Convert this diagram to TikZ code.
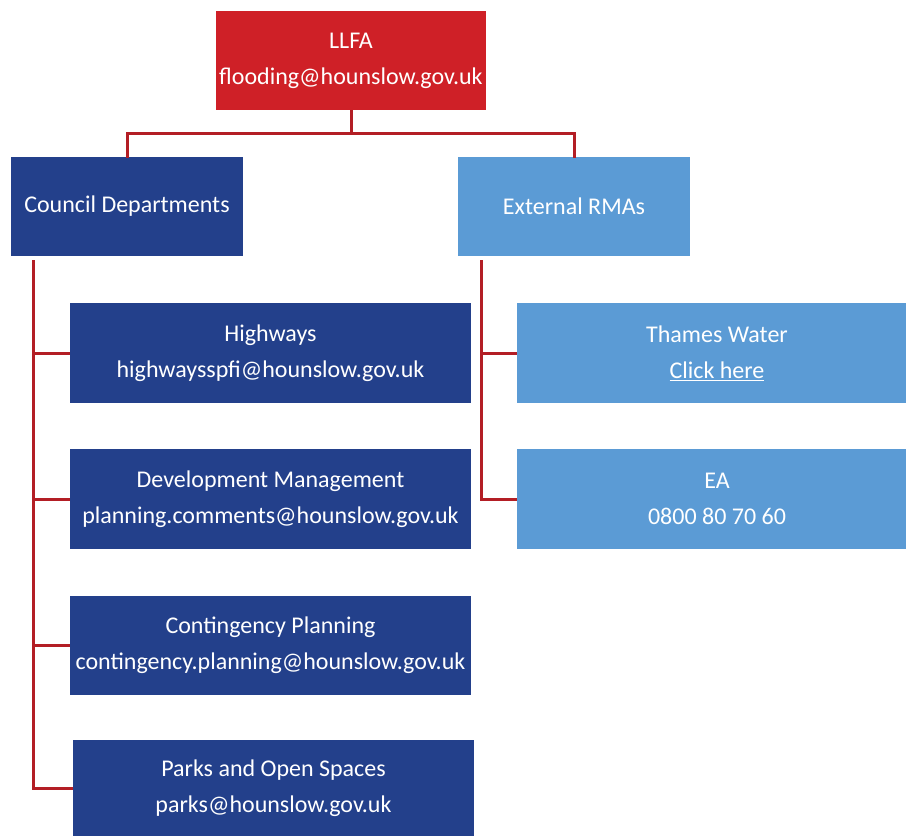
\documentclass[tikz,border=0pt]{standalone}
\usepackage{fontspec}
\setmainfont{Carlito}
\definecolor{llfared}{HTML}{CF2027}
\definecolor{darkblue}{HTML}{23408B}
\definecolor{lightblue}{HTML}{5B9BD5}
\definecolor{linered}{HTML}{B31E25}
\begin{document}
\begin{tikzpicture}[x=1pt,y=-1pt,
  box/.style={draw=none,inner sep=0pt,text=white,align=center,
    font=\fontsize{24}{36}\selectfont},
  conn/.style={draw=linered,line width=3pt},
]
\useasboundingbox (0,0) rectangle (906,836);
\clip (0,0) rectangle (906,836);
% boxes
\node[box,fill=llfared,minimum width=270pt,minimum height=99pt] (llfa) at (351,60.5) {LLFA\\flooding@hounslow.gov.uk};
\node[box,fill=darkblue,minimum width=232pt,minimum height=99pt] (cd) at (127,206.5) {Council Departments};
\node[box,fill=lightblue,minimum width=232pt,minimum height=99pt] (ext) at (574,206.5) {External RMAs};
\node[box,fill=darkblue,minimum width=401pt,minimum height=100pt] (hw) at (270.5,353) {Highways\\highwaysspfi@hounslow.gov.uk};
\node[box,fill=darkblue,minimum width=401pt,minimum height=100pt] (dm) at (270.5,499) {Development Management\\planning.comments@hounslow.gov.uk};
\node[box,fill=darkblue,minimum width=401pt,minimum height=99pt] (cp) at (270.5,645.5) {Contingency Planning\\contingency.planning@hounslow.gov.uk};
\node[box,fill=darkblue,minimum width=401pt,minimum height=96pt] (po) at (273.5,788) {Parks and Open Spaces\\parks@hounslow.gov.uk};
\node[box,fill=lightblue,minimum width=400pt,minimum height=100pt] (tw) at (717,353) {Thames Water\\\underline{Click here}};
\node[box,fill=lightblue,minimum width=400pt,minimum height=100pt] (ea) at (717,499) {EA\\0800 80 70 60};
% connectors
\coordinate (bus) at (351,133);
\draw[conn] (llfa.south) -- (bus);
\draw[conn] ([yshift=-1.5pt]cd.north) |- (bus) -| ([yshift=-1.5pt]ext.north);
\coordinate (cdtop) at (33,260);
\coordinate (exttop) at (481,260);
\draw[conn] (cdtop) |- (po.west);
\draw[conn] (hw.west) -- (hw.west -| cdtop);
\draw[conn] (dm.west) -- (dm.west -| cdtop);
\draw[conn] (cp.west) -- (cp.west -| cdtop);
\draw[conn] (exttop) |- (ea.west);
\draw[conn] (tw.west) -- (tw.west -| exttop);
\end{tikzpicture}
\end{document}
